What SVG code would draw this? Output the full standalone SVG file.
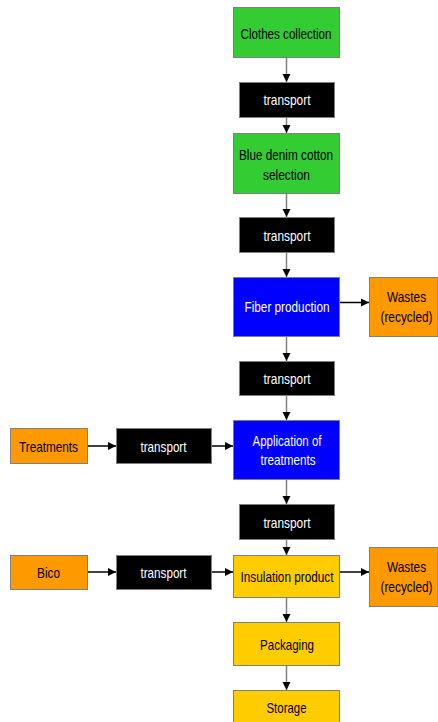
<svg xmlns="http://www.w3.org/2000/svg" width="438" height="722" viewBox="0 0 438 722">
<style>
.box{stroke:#7f7f7f;stroke-width:1}
.g{fill:#33cc33}.b{fill:#0000ff}.o{fill:#ff9900}.y{fill:#ffcc00}.k{fill:#000000}
text{font-family:"Liberation Sans",Arial,sans-serif;font-size:14.5px;text-anchor:middle}
.dt{fill:#000000}.wt{fill:#ffffff}
.v{stroke:#808080;stroke-width:1.5;fill:none;marker-end:url(#ah)}
.h{stroke:#000000;stroke-width:1.5;fill:none;marker-end:url(#ah)}
</style>
<defs>
<marker id="ah" markerUnits="userSpaceOnUse" markerWidth="10" markerHeight="10" refX="9" refY="5" orient="auto">
<path d="M1,1 L9,5 L1,9 Z" fill="#000000"/>
</marker>
</defs>
<rect width="438" height="722" fill="#ffffff"/>
<g id="connectors">
<line class="v" x1="286.5" y1="57" x2="286.5" y2="82"/>
<line class="v" x1="286.5" y1="117" x2="286.5" y2="133"/>
<line class="v" x1="286.5" y1="193" x2="286.5" y2="217"/>
<line class="v" x1="286.5" y1="252" x2="286.5" y2="277"/>
<line class="v" x1="286.5" y1="336" x2="286.5" y2="361"/>
<line class="v" x1="286.5" y1="395" x2="286.5" y2="420"/>
<line class="v" x1="286.5" y1="479" x2="286.5" y2="504"/>
<line class="v" x1="286.5" y1="539" x2="286.5" y2="555"/>
<line class="v" x1="286.5" y1="597" x2="286.5" y2="622"/>
<line class="v" x1="286.5" y1="665" x2="286.5" y2="690"/>
<line class="h" x1="340" y1="302.5" x2="369" y2="302.5"/>
<line class="h" x1="87" y1="446" x2="116" y2="446"/>
<line class="h" x1="211" y1="446" x2="233" y2="446"/>
<line class="h" x1="87" y1="572" x2="116" y2="572"/>
<line class="h" x1="211" y1="572" x2="233" y2="572"/>
<line class="h" x1="340" y1="572" x2="369" y2="572"/>
</g>
<g id="clothes">
<rect class="box g" x="233.5" y="7.5" width="106" height="50"/>
<text class="dt" x="286" y="39" textLength="91" lengthAdjust="spacingAndGlyphs">Clothes collection</text>
</g>
<g id="transport1">
<rect class="box k" x="239.5" y="82.5" width="95" height="35"/>
<text class="wt" x="287" y="105" textLength="47" lengthAdjust="spacingAndGlyphs">transport</text>
</g>
<g id="denim">
<rect class="box g" x="233.5" y="133.5" width="106" height="60"/>
<text class="dt" x="286" y="159.5" textLength="94" lengthAdjust="spacingAndGlyphs">Blue denim cotton</text>
<text class="dt" x="286.5" y="179.5" textLength="47" lengthAdjust="spacingAndGlyphs">selection</text>
</g>
<g id="transport2">
<rect class="box k" x="239.5" y="217.5" width="95" height="35"/>
<text class="wt" x="287" y="240.5" textLength="47" lengthAdjust="spacingAndGlyphs">transport</text>
</g>
<g id="fiber">
<rect class="box b" x="233.5" y="277.5" width="106" height="59"/>
<text class="wt" x="287" y="312" textLength="85" lengthAdjust="spacingAndGlyphs">Fiber production</text>
</g>
<g id="wastes1">
<rect class="box o" x="369.5" y="277.5" width="68.5" height="59"/>
<text class="dt" transform="translate(406.5,302) scale(0.82,1)">Wastes</text>
<text class="dt" transform="translate(406.5,322) scale(0.82,1)">(recycled)</text>
</g>
<g id="transport3">
<rect class="box k" x="239.5" y="361.5" width="95" height="34"/>
<text class="wt" x="287" y="384" textLength="47" lengthAdjust="spacingAndGlyphs">transport</text>
</g>
<g id="treatments">
<rect class="box o" x="10.5" y="428.5" width="77" height="35"/>
<text class="dt" x="48.5" y="451.5" textLength="59" lengthAdjust="spacingAndGlyphs">Treatments</text>
</g>
<g id="transport4">
<rect class="box k" x="116.5" y="428.5" width="95" height="35"/>
<text class="wt" x="163.5" y="451.5" textLength="46" lengthAdjust="spacingAndGlyphs">transport</text>
</g>
<g id="application">
<rect class="box b" x="233.5" y="420.5" width="106" height="59"/>
<text class="wt" x="287" y="445.5" textLength="69" lengthAdjust="spacingAndGlyphs">Application of</text>
<text class="wt" x="288" y="465" textLength="55" lengthAdjust="spacingAndGlyphs">treatments</text>
</g>
<g id="transport5">
<rect class="box k" x="239.5" y="504.5" width="95" height="35"/>
<text class="wt" x="287" y="527.5" textLength="47" lengthAdjust="spacingAndGlyphs">transport</text>
</g>
<g id="bico">
<rect class="box o" x="10.5" y="555.5" width="77" height="34"/>
<text class="dt" x="48.5" y="577.5" textLength="23" lengthAdjust="spacingAndGlyphs">Bico</text>
</g>
<g id="transport6">
<rect class="box k" x="116.5" y="555.5" width="95" height="34"/>
<text class="wt" x="163.5" y="577.5" textLength="46" lengthAdjust="spacingAndGlyphs">transport</text>
</g>
<g id="insulation">
<rect class="box y" x="233.5" y="555.5" width="106" height="42"/>
<text class="dt" x="287" y="581.5" textLength="93" lengthAdjust="spacingAndGlyphs">Insulation product</text>
</g>
<g id="wastes2">
<rect class="box o" x="369.5" y="547.5" width="68.5" height="59"/>
<text class="dt" transform="translate(406.5,571.5) scale(0.82,1)">Wastes</text>
<text class="dt" transform="translate(406.5,592) scale(0.82,1)">(recycled)</text>
</g>
<g id="packaging">
<rect class="box y" x="233.5" y="622.5" width="106" height="43"/>
<text class="dt" x="287" y="649.5" textLength="54" lengthAdjust="spacingAndGlyphs">Packaging</text>
</g>
<g id="storage">
<rect class="box y" x="233.5" y="690.5" width="106" height="40"/>
<text class="dt" x="286.5" y="712.5" textLength="40" lengthAdjust="spacingAndGlyphs">Storage</text>
</g>
</svg>
